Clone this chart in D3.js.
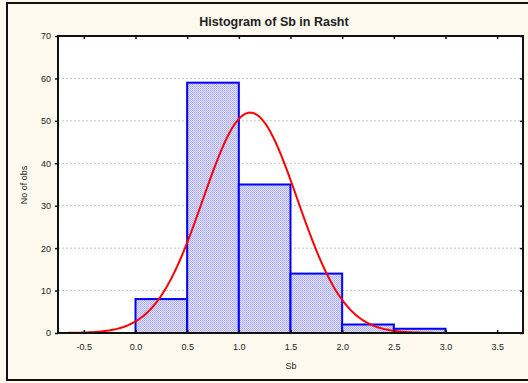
<!DOCTYPE html>
<html>
<head>
<meta charset="utf-8">
<script src="https://cdn.jsdelivr.net/npm/d3@7"></script>
<style>
  body { margin: 0; background: #fdf9ee; }
  text { font-family: Arial, "Liberation Sans", sans-serif; fill: #222; }
</style>
</head>
<body>
<div id="chart"></div>
<script>
// bins of Sb (lower edge, upper edge) and counts
const binStarts = [0.0, 0.5, 1.0, 1.5, 2.0, 2.5];
const binWidth = 0.5;
const counts = [8, 59, 35, 14, 2, 1];
const xTicks = [-0.5, 0.0, 0.5, 1.0, 1.5, 2.0, 2.5, 3.0, 3.5];
const yTicks = [0, 10, 20, 30, 40, 50, 60, 70];
// fitted normal
const fitMean = 1.11;
const fitSd = 0.457;

const width = 528, height = 383;
const margin = { top: 36, right: 5, bottom: 50, left: 58 };

const svg = d3.select("#chart").append("svg")
  .attr("width", width)
  .attr("height", height);

// outer frame
svg.append("rect")
  .attr("x", 7).attr("y", 3)
  .attr("width", 540).attr("height", 377)
  .attr("fill", "#fdf9ee")
  .attr("stroke", "#111").attr("stroke-width", 2);

const defs = svg.append("defs");
const pat = defs.append("pattern")
  .attr("id", "hatch")
  .attr("width", 2).attr("height", 2)
  .attr("patternUnits", "userSpaceOnUse");
pat.append("rect").attr("width", 2).attr("height", 2).attr("fill", "#e2e2fc");
pat.append("rect").attr("width", 1).attr("height", 1).attr("fill", "#a8a8f6");
pat.append("rect").attr("x", 1).attr("y", 1).attr("width", 1).attr("height", 1).attr("fill", "#b4b4f8");

const x = d3.scaleLinear().domain([-0.75, 3.75]).range([margin.left, width - margin.right]);
const y = d3.scaleLinear().domain([0, 70]).range([height - margin.bottom, margin.top]);

// plot background
svg.append("rect")
  .attr("x", x.range()[0]).attr("y", y(70))
  .attr("width", x.range()[1] - x.range()[0])
  .attr("height", y(0) - y(70))
  .attr("fill", "#fff");

// dotted grid
svg.append("g")
  .selectAll("line")
  .data(yTicks.filter(d => d > 0 && d < 70))
  .join("line")
  .attr("x1", x.range()[0]).attr("x2", x.range()[1])
  .attr("y1", d => y(d)).attr("y2", d => y(d))
  .attr("stroke", "#c4c4c4")
  .attr("stroke-dasharray", "2,2");

// bars
svg.append("g")
  .selectAll("rect")
  .data(binStarts)
  .join("rect")
  .attr("x", d => x(d))
  .attr("y", (d, i) => y(counts[i]))
  .attr("width", d => x(d + binWidth) - x(d))
  .attr("height", (d, i) => y(0) - y(counts[i]))
  .attr("fill", "url(#hatch)")
  .attr("stroke", "#0000ff")
  .attr("stroke-width", 2);

// normal curve scaled to counts
const total = d3.sum(counts);
const curveXs = d3.range(-0.75, 3.7501, 0.01);
const dens = v => total * binWidth / (fitSd * Math.sqrt(2 * Math.PI)) *
  Math.exp(-0.5 * Math.pow((v - fitMean) / fitSd, 2));
svg.append("path")
  .datum(curveXs)
  .attr("fill", "none")
  .attr("stroke", "#ff0000")
  .attr("stroke-width", 2)
  .attr("d", d3.line().x(d => x(d)).y(d => y(dens(d))));

// axes
const fmt = d => d.toFixed(1); // plain hyphen minus like the original
svg.append("g")
  .attr("transform", `translate(0,${y(0)})`)
  .call(d3.axisBottom(x).tickValues(xTicks).tickFormat(fmt).tickSize(-3).tickPadding(11))
  .call(g => g.select(".domain").remove())
  .call(g => g.selectAll("line").attr("stroke", "#111").attr("stroke-width", 1.5))
  .call(g => g.selectAll("text").attr("font-size", 9).attr("fill", "#222"));

svg.append("g")
  .attr("transform", `translate(0,${y(70)})`)
  .call(d3.axisTop(x).tickValues(xTicks).tickFormat("").tickSize(-3))
  .call(g => g.select(".domain").remove())
  .call(g => g.selectAll("line").attr("stroke", "#111").attr("stroke-width", 1.5));

svg.append("g")
  .attr("transform", `translate(${x.range()[0]},0)`)
  .call(d3.axisLeft(y).tickValues(yTicks).tickSize(3).tickPadding(4))
  .call(g => g.select(".domain").remove())
  .call(g => g.selectAll("line").attr("stroke", "#111").attr("stroke-width", 1.5))
  .call(g => g.selectAll("text").attr("font-size", 9).attr("fill", "#222"));

svg.append("g")
  .attr("transform", `translate(${x.range()[1]},0)`)
  .call(d3.axisRight(y).tickValues(yTicks).tickSize(-3).tickFormat(""))
  .call(g => g.select(".domain").remove())
  .call(g => g.selectAll("line").attr("stroke", "#111").attr("stroke-width", 1.5));

// plot frame
svg.append("rect")
  .attr("x", x.range()[0]).attr("y", y(70))
  .attr("width", x.range()[1] - x.range()[0])
  .attr("height", y(0) - y(70))
  .attr("fill", "none")
  .attr("stroke", "#111")
  .attr("stroke-width", 2);

// title and labels
svg.append("text")
  .attr("x", 274).attr("y", 26)
  .attr("text-anchor", "middle")
  .attr("font-size", 12.5)
  .attr("font-weight", "bold")
  .attr("fill", "#111")
  .text("Histogram of Sb in Rasht");

svg.append("text")
  .attr("x", 291).attr("y", 369)
  .attr("text-anchor", "middle")
  .attr("font-size", 9)
  .text("Sb");

svg.append("text")
  .attr("transform", "translate(27,185) rotate(-90)")
  .attr("text-anchor", "middle")
  .attr("font-size", 9)
  .text("No of obs");
</script>
</body>
</html>
